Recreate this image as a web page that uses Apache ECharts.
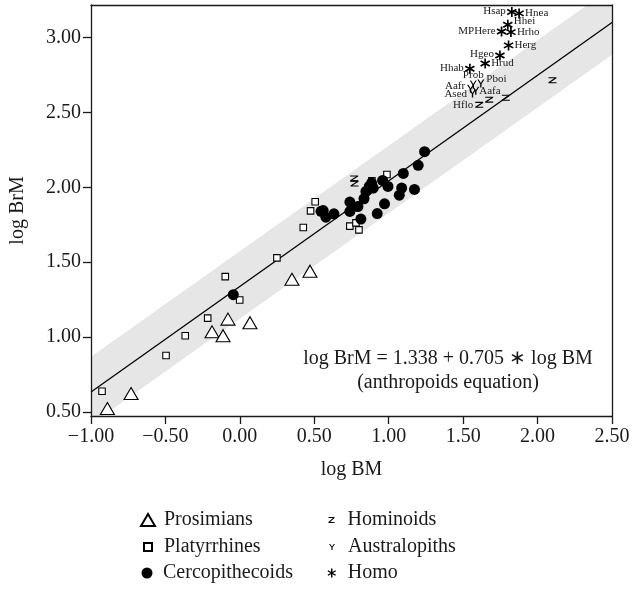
<!DOCTYPE html>
<html>
<head>
<meta charset="utf-8">
<script src="https://cdn.jsdelivr.net/npm/echarts@6/dist/echarts.min.js"></script>
<style>
html,body{margin:0;padding:0;background:#fff;}
#chart{width:634px;height:598px;}
</style>
</head>
<body>
<div id="chart"></div>
<script>
// ---- data (log body mass, log brain mass) ----
var prosimiansX = [-0.89, -0.731, -0.187, -0.113, -0.080, 0.068, 0.350, 0.471];
var prosimiansY = [0.523, 0.623, 1.035, 1.009, 1.120, 1.096, 1.386, 1.440];

var platyrrhinesX = [-0.926, -0.496, -0.367, -0.216, -0.098, -0.001, 0.249, 0.426, 0.475, 0.506, 0.739, 0.780, 0.800, 0.887, 0.988];
var platyrrhinesY = [0.638, 0.877, 1.009, 1.127, 1.404, 1.248, 1.529, 1.732, 1.843, 1.904, 1.741, 1.763, 1.716, 2.044, 2.086];

var cercoX = [-0.044, 0.545, 0.560, 0.578, 0.632, 0.739, 0.739, 0.793, 0.813, 0.834, 0.847, 0.869, 0.885, 0.896, 0.923, 0.959, 0.972, 0.995, 1.071, 1.087, 1.098, 1.173, 1.198, 1.241];
var cercoY = [1.283, 1.840, 1.845, 1.801, 1.823, 1.902, 1.839, 1.872, 1.788, 1.924, 1.973, 2.006, 2.029, 1.995, 1.825, 2.046, 1.890, 2.006, 1.948, 1.995, 2.093, 1.986, 2.147, 2.238];

var hominoidsX = [0.768, 0.770, 1.608, 1.675, 1.787, 2.100];
var hominoidsY = [2.060, 2.025, 2.551, 2.586, 2.598, 2.715];
var hominoidsNames = ['', '', 'Hflo', '', '', ''];

var australopithsNames = ['Prob', 'Pboi', 'Aafr', 'Ased', 'Aafa'];
var australopithsX = [1.568, 1.619, 1.550, 1.563, 1.585];
var australopithsY = [2.687, 2.693, 2.658, 2.627, 2.645];

var homoNames = ['Hsap', 'Hnea', 'Hhei', 'MPHere', 'Hrho', 'Herg', 'Hgeo', 'Hrud', 'Hhab'];
var homoX = [1.827, 1.876, 1.800, 1.758, 1.821, 1.805, 1.747, 1.648, 1.545];
var homoY = [3.171, 3.162, 3.086, 3.041, 3.037, 2.948, 2.881, 2.827, 2.792];

// anthropoids equation: log BrM = 1.338 + 0.705 * log BM
var fitIntercept = 1.338;
var fitSlope = 0.705;
var bandUpper = 0.235;
var bandLower = 0.215;
var fitRangeX = [-1, 2.5];

var xTicks = [-1, -0.5, 0, 0.5, 1, 1.5, 2, 2.5];
var yTicks = [0.5, 1.0, 1.5, 2.0, 2.5, 3.0];

// ---- label placement (layout only) ----
var hominoidsLabelPos = [null, null, ['left', [0, 0]], null, null, null];
var australopithsLabelPos = [['top', [0, 2]], ['right', [0, -4]], ['left', [0, -3]], ['left', [0, 1]], ['right', [-2, 0]]];
var homoLabelPos = [['left', [0, -1]], ['right', [0, 0]], ['right', [0, -4]], ['left', [0, 0]], ['right', [0, 0]], ['right', [0, 0]], ['left', [0, -1]], ['right', [0, 0]], ['left', [0, -1]]];

var FONT = 'Liberation Serif';

function pairs(xs, ys) { return xs.map(function (x, i) { return [x, ys[i]]; }); }
function labelled(xs, ys, names, pos) {
  return xs.map(function (x, i) {
    var item = { value: [x, ys[i]], name: names[i] };
    if (pos[i]) {
      item.label = { show: true, position: pos[i][0], offset: pos[i][1] };
    }
    return item;
  });
}
function fitLine(off) {
  return fitRangeX.map(function (x) { return [x, fitIntercept + fitSlope * x + off]; });
}
function minusFmt(v) { return v.toFixed(2).replace('-', '\u2212'); }

var ZPATH = 'path://M0,0H10V1.7L2.7,8.3H10V10H0V8.3L7.3,1.7H0Z';
var YPATH = 'path://M0,0H1.9L5,4.3L8.1,0H10L5.95,5.6V10H4.05V5.6Z';
var STARPATH = 'path://M4.2,0H5.8V10H4.2Z M0.27,3.19L1.07,1.81L9.73,6.81L8.93,8.19Z M0.27,6.81L8.93,1.81L9.73,3.19L1.07,8.19Z';

var chart = echarts.init(document.getElementById('chart'), null, { renderer: 'canvas' });

var axisLineStyle = { color: '#1a1a1a', width: 1.3 };
var labelText = { fontFamily: FONT, fontSize: 20, color: '#1a1a1a' };

function legendItem(name, left, top, w, h, pad) {
  return {
    data: [name], left: left, top: top, itemWidth: w, itemHeight: h, padding: 0,
    selectedMode: false,
    textStyle: { fontFamily: FONT, fontSize: 20, color: '#1a1a1a', padding: [0, 0, 0, pad], lineHeight: 22 }
  };
}

var option = {
  animation: false,
  backgroundColor: '#ffffff',
  grid: { left: 91, right: 22, top: 5, bottom: 182, containLabel: false },
  xAxis: [{
    type: 'value', min: -1, max: 2.5, interval: 0.5, z: 10,
    name: 'log BM', nameLocation: 'middle', nameGap: 44,
    nameTextStyle: labelText,
    axisLine: { show: true, onZero: false, lineStyle: axisLineStyle },
    axisTick: { show: true, length: 8, lineStyle: axisLineStyle },
    axisLabel: { margin: 11, fontFamily: FONT, fontSize: 20, color: '#1a1a1a', formatter: minusFmt },
    splitLine: { show: false }
  }, {
    type: 'value', position: 'top', min: -1, max: 2.5, z: 10,
    axisLine: { show: true, onZero: false, lineStyle: axisLineStyle },
    axisTick: { show: false }, axisLabel: { show: false }, splitLine: { show: false }
  }],
  yAxis: [{
    type: 'value', min: 0.473, max: 3.218, z: 10,
    name: 'log BrM', nameLocation: 'middle', nameGap: 63, nameRotate: 90,
    nameTextStyle: labelText,
    axisLine: { show: true, onZero: false, lineStyle: axisLineStyle },
    axisTick: { show: true, length: 8, lineStyle: axisLineStyle, customValues: yTicks },
    axisLabel: { margin: 10, fontFamily: FONT, fontSize: 20, color: '#1a1a1a', customValues: yTicks, formatter: minusFmt },
    splitLine: { show: false }
  }, {
    type: 'value', position: 'right', min: 0.473, max: 3.218, z: 10,
    axisLine: { show: true, onZero: false, lineStyle: axisLineStyle },
    axisTick: { show: false }, axisLabel: { show: false }, splitLine: { show: false }
  }],
  legend: [
    legendItem('Prosimians', 140, 509, 14, 12, 4),
    legendItem('Platyrrhines', 143, 536, 8, 8, 7),
    legendItem('Cercopithecoids', 141.5, 562, 11, 11, 5.5),
    legendItem('Hominoids', 328.5, 509, 7, 6, 7.5),
    legendItem('Australopiths', 329, 536, 6, 7, 8),
    legendItem('Homo', 327.5, 562, 9, 9, 6.5)
  ],
  graphic: [{
    type: 'text', x: 448, y: 347, z: 20,
    style: {
      text: 'log BrM = 1.338 + 0.705 \u2217 log BM\n(anthropoids equation)',
      font: '20px "Liberation Serif"', lineHeight: 24, fill: '#1a1a1a', align: 'center', textAlign: 'center'
    }
  }],
  series: [
    {
      name: 'bandUpper', type: 'line', data: fitLine(bandUpper), symbol: 'none', silent: true, z: 1,
      lineStyle: { width: 0, opacity: 0 }, areaStyle: { color: '#e6e6e6', opacity: 1, origin: 'start' }, clip: true
    },
    {
      name: 'bandLower', type: 'line', data: fitLine(-bandLower), symbol: 'none', silent: true, z: 1,
      lineStyle: { width: 0, opacity: 0 }, areaStyle: { color: '#ffffff', opacity: 1, origin: 'start' }, clip: true
    },
    {
      name: 'fit', type: 'line', data: fitLine(0), symbol: 'none', silent: true, z: 3,
      lineStyle: { color: '#000', width: 1.3 }, clip: true
    },
    {
      name: 'Prosimians', type: 'scatter', data: pairs(prosimiansX, prosimiansY), z: 5,
      symbol: 'triangle', symbolSize: [14, 12],
      itemStyle: { color: '#ffffff', borderColor: '#000', borderWidth: 1.1, opacity: 1 }
    },
    {
      name: 'Platyrrhines', type: 'scatter', data: pairs(platyrrhinesX, platyrrhinesY), z: 5,
      symbol: 'rect', symbolSize: 6.5,
      itemStyle: { color: '#ffffff', borderColor: '#000', borderWidth: 1.1, opacity: 1 }
    },
    {
      name: 'Cercopithecoids', type: 'scatter', data: pairs(cercoX, cercoY), z: 5,
      symbol: 'circle', symbolSize: 11,
      itemStyle: { color: '#000', opacity: 1 }
    },
    {
      name: 'Hominoids', type: 'scatter', data: labelled(hominoidsX, hominoidsY, hominoidsNames, hominoidsLabelPos), z: 6,
      symbol: ZPATH, symbolSize: [8, 6], symbolKeepAspect: false,
      itemStyle: { color: '#000', opacity: 1 },
      label: { show: false, formatter: '{b}', fontFamily: FONT, fontSize: 11, color: '#1a1a1a', distance: 2 }
    },
    {
      name: 'Australopiths', type: 'scatter', data: labelled(australopithsX, australopithsY, australopithsNames, australopithsLabelPos), z: 6,
      symbol: YPATH, symbolSize: [7, 8], symbolKeepAspect: false,
      itemStyle: { color: '#000', opacity: 1 },
      label: { show: true, formatter: '{b}', fontFamily: FONT, fontSize: 11, color: '#1a1a1a', distance: 2 }
    },
    {
      name: 'Homo', type: 'scatter', data: labelled(homoX, homoY, homoNames, homoLabelPos), z: 6,
      symbol: STARPATH, symbolSize: 10,
      itemStyle: { color: '#000', opacity: 1 },
      label: { show: true, formatter: '{b}', fontFamily: FONT, fontSize: 11, color: '#1a1a1a', distance: 1 }
    }
  ]
};
chart.setOption(option);
</script>
</body>
</html>
